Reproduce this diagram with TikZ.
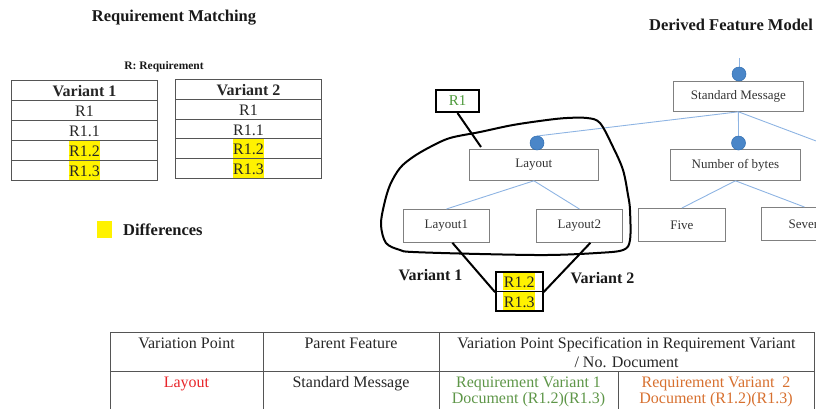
\documentclass[tikz,border=0pt]{standalone}
\usepackage{fontspec}
\setmainfont{Liberation Serif}
\usetikzlibrary{calc}
\definecolor{hly}{HTML}{FFF200}
\definecolor{fmline}{HTML}{8EB4E3}
\definecolor{fmdot}{HTML}{4A86C8}
\definecolor{fmdotb}{HTML}{2F6DB0}
\definecolor{boxgray}{HTML}{808080}
\definecolor{txtgray}{HTML}{333333}
\definecolor{tblgray}{HTML}{555555}
\definecolor{rgreen}{HTML}{4E9A3C}
\definecolor{vgreen}{HTML}{5E9648}
\definecolor{vorange}{HTML}{D7702F}
\definecolor{vred}{HTML}{E8252A}
\begin{document}
\begin{tikzpicture}[x=1pt,y=-1pt,
  title/.style={font=\fontsize{16.5}{18}\selectfont\bfseries, inner sep=0, anchor=base, text=black!90},
  vcell/.style={draw=tblgray, line width=1pt, minimum width=146, minimum height=20, inner sep=0,
    text height=14, text depth=2, font=\fontsize{16}{18}\selectfont, anchor=north west, text=black!85},
  vhead/.style={vcell, font=\fontsize{16}{18}\selectfont\bfseries},
  hl/.style={fill=hly, inner xsep=0.5, inner ysep=1.6, text height=14, text depth=2,
    font=\fontsize{16}{18}\selectfont, text=black!85},
  fmbox/.style={draw=boxgray, line width=0.8pt, text=txtgray, font=\fontsize{13}{15}\selectfont,
    inner sep=0, anchor=north west},
  fmconn/.style={draw=fmline, line width=0.9pt},
  fmdotst/.style={circle, fill=fmdot, draw=fmdotb, line width=0.5pt, minimum size=14, inner sep=0},
  blk/.style={line width=2pt, black},
  tcell/.style={draw=tblgray, line width=1pt, inner sep=0, anchor=north west},
  ttext/.style={font=\fontsize{16}{18}\selectfont, anchor=base, inner sep=0, text=black!85},
  smallbox/.style={draw=black, line width=1.6pt, minimum width=47, minimum height=19.5, inner sep=0, anchor=north west}
]
\useasboundingbox (0,0) rectangle (816,408);
\clip (0,0) rectangle (816,408);

% ---------- Requirement Matching ----------
\node[title] (rmtitle) at (174,21) {Requirement Matching};
\node[title, font=\fontsize{11.5}{13}\selectfont\bfseries] (rlegend) at (164,69) {R: Requirement};

\node[vhead] (a0) at (11,80) {Variant 1};
\node[vcell] (a1) at (11,100) {R1};
\node[vcell] (a2) at (11,120) {R1.1};
\node[vcell] (a3) at (11,140) {};
\node[vcell] (a4) at (11,160) {};
\node[hl] (a3t) at (a3) {R1.2};
\node[hl] (a4t) at (a4) {R1.3};

\node[vhead, minimum height=19.8] (b0) at (175,79) {Variant 2};
\node[vcell, minimum height=19.8] (b1) at (175,98.8) {R1};
\node[vcell, minimum height=19.8] (b2) at (175,118.6) {R1.1};
\node[vcell, minimum height=19.8] (b3) at (175,138.4) {};
\node[vcell, minimum height=19.8] (b4) at (175,158.2) {};
\node[hl] (b3t) at (b3) {R1.2};
\node[hl] (b4t) at (b4) {R1.3};

\node[fill=hly, minimum width=15, minimum height=17, anchor=north west, inner sep=0] (legsq) at (97,221) {};
\node[title, anchor=base west] (legtxt) at (123,235) {Differences};

% ---------- Derived Feature Model ----------
\node[title] (fmtitle) at (731,30) {Derived Feature Model};

\node[fmbox, minimum width=130, minimum height=30] (sm) at (673,81) {Standard Message};
\node[fmbox, minimum width=129, minimum height=31] (lay) at (469,149) {Layout};
\node[fmbox, minimum width=130, minimum height=31] (nb) at (670,149) {Number of bytes};
\node[fmbox, minimum width=86, minimum height=33] (l1) at (403,209) {Layout1};
\node[fmbox, minimum width=86, minimum height=33] (l2) at (536,209) {Layout2};
\node[fmbox, minimum width=87, minimum height=33] (five) at (638,208) {Five};
\node[fmbox, minimum width=86, minimum height=33] (seven) at (761,207) {Seven};

\coordinate (smtop) at (739,58);
\coordinate (offr) at (880,165);
\draw[fmconn] (sm.south) -- (offr);
\draw[fmconn] (sm.south) -- (537,136);
\draw[fmconn] (sm.south) -- (738.5,136);
\draw[fmconn] (smtop) -- (739,67);
\draw[fmconn] (lay.south) -- (l1.north);
\draw[fmconn] (lay.south) -- (l2.north);
\draw[fmconn] (nb.south) -- (five.north);
\draw[fmconn] (nb.south) -- (seven.north);

\node[fmdotst] (smdot) at (739,74) {};
\node[fmdotst] (laydot) at (537,143) {};
\node[fmdotst] (nbdot) at (738.5,143) {};

% ---------- R1 annotation and loop ----------
\node[draw=black, line width=2pt, minimum width=43, minimum height=22, inner sep=0,
  text=rgreen, font=\fontsize{15}{17}\selectfont] (r1) at (457.5,101) {R1};
\coordinate (r1end) at (481,147);
\draw[blk] (r1.south) -- (r1end);

\draw[blk, line join=round] plot[smooth cycle, tension=0.55] coordinates {
 (587,118) (567,118) (547,120) (513,125) (480,132) (450,138) (430,147) (413,157)
 (400,168) (390,185) (384,205) (381,225) (386,243) (400,250) (413,252) (480,254)
 (547,255) (597,253) (623,250) (630,240) (630,210) (628,195) (623,170) (613,147) (600,123)};

% small requirement box
\node[smallbox] (rr1) at (495,271) {};
\node[smallbox] (rr2) at (495,290.5) {};
\node[hl, inner ysep=0.8] (rr1t) at (rr1) {R1.2};
\node[hl, inner ysep=0.8] (rr2t) at (rr2) {R1.3};
\draw[blk] ($(l1.south)+(6,0)$) -- (rr1.south west);
\draw[blk] ($(l2.south)+(11,0)$) -- (rr1.south east);

\node[title, font=\fontsize{16}{18}\selectfont\bfseries] (var1) at (430.5,280) {Variant 1};
\node[title, font=\fontsize{16}{18}\selectfont\bfseries] (var2) at (602.5,283) {Variant 2};

% ---------- Bottom table ----------
\node[tcell, minimum width=153, minimum height=39] (c11) at (110,332) {};
\node[tcell, minimum width=176, minimum height=39] (c12) at (263,332) {};
\node[tcell, minimum width=375, minimum height=39] (c13) at (439,332) {};
\node[tcell, minimum width=153, minimum height=50] (c21) at (110,371) {};
\node[tcell, minimum width=176, minimum height=50] (c22) at (263,371) {};
\node[tcell, minimum width=179, minimum height=50] (c23) at (439,371) {};
\node[tcell, minimum width=196, minimum height=50] (c24) at (618,371) {};

\node[ttext] (h1) at (186.5,348) {Variation Point};
\node[ttext] (h2) at (351,348) {Parent Feature};
\node[ttext] (h3a) at (626.5,348) {Variation Point Specification in Requirement Variant};
\node[ttext] (h3b) at (626.5,367) {/ No. Document};

\node[ttext, text=vred] (d1) at (186.5,387.5) {Layout};
\node[ttext] (d2) at (351,387.5) {Standard Message};
\node[ttext, text=vgreen] (d3a) at (528.5,387) {Requirement Variant 1};
\node[ttext, text=vgreen] (d3b) at (528.5,403) {Document (R1.2)(R1.3)};
\node[ttext, text=vorange] (d4a) at (716,387) {Requirement Variant~ 2};
\node[ttext, text=vorange] (d4b) at (716,403) {Document (R1.2)(R1.3)};
\end{tikzpicture}
\end{document}
